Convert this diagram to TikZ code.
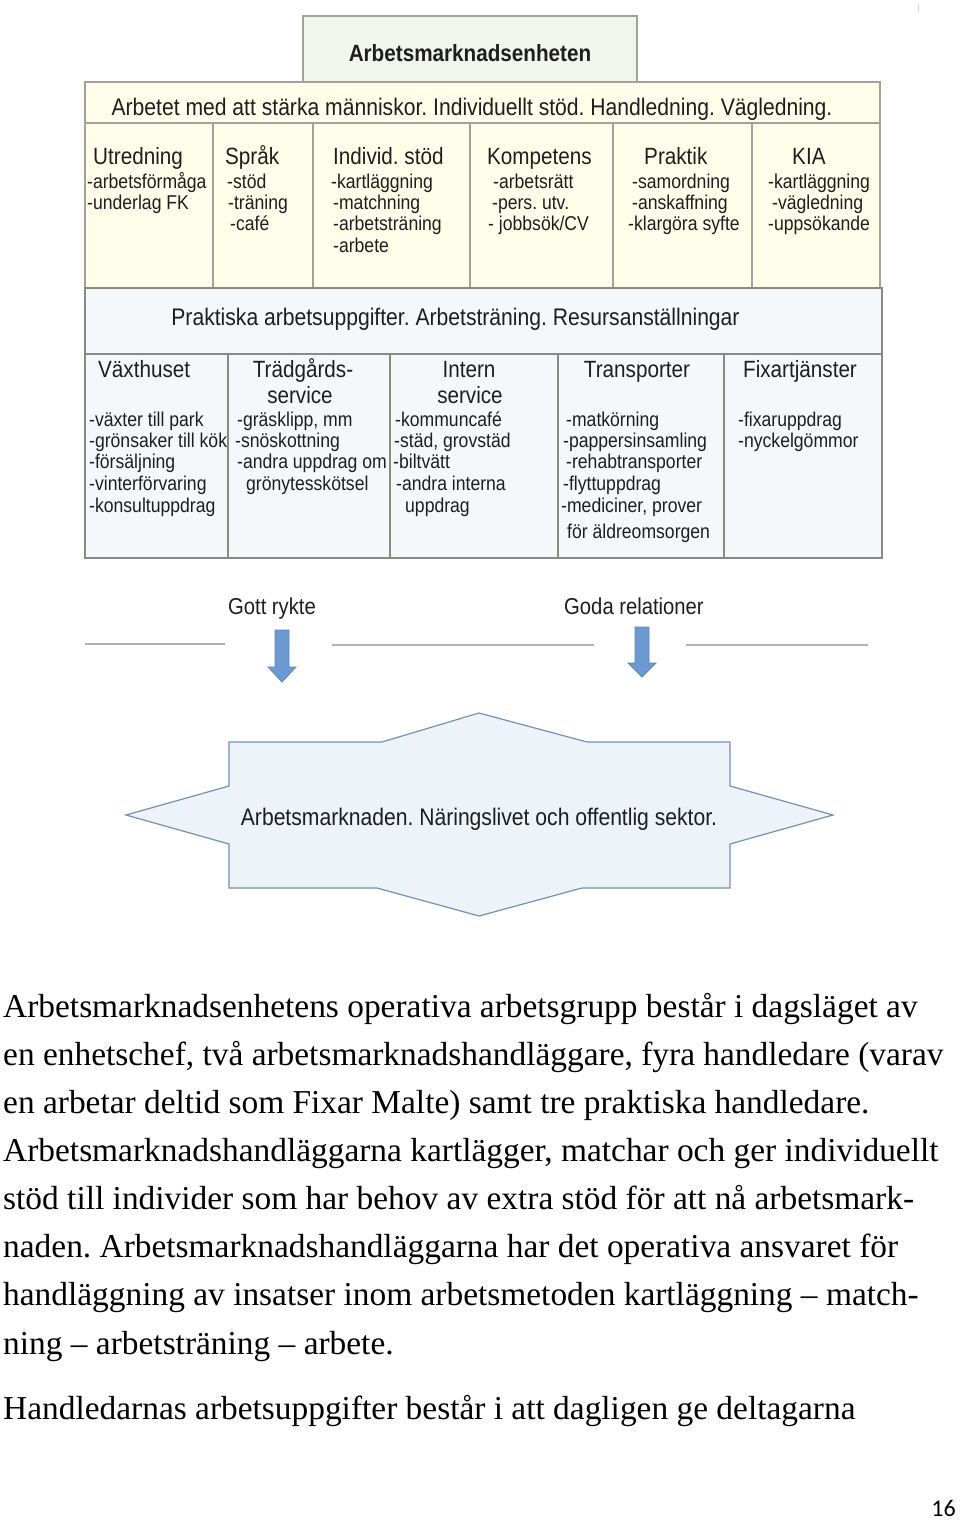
\documentclass[tikz,border=0pt]{standalone}
\usepackage{fontspec}
\setmainfont{Liberation Serif}
\newfontfamily\dia[FakeStretch=0.88]{Liberation Sans}
\newfontfamily\pagefont{Carlito}
\definecolor{txt}{HTML}{1E1E1E}
\definecolor{titlefill}{HTML}{F2F4EE}
\definecolor{yfill}{HTML}{FEFEEA}
\definecolor{bfill}{HTML}{F5F8FB}
\definecolor{bordc}{HTML}{A2A29A}
\definecolor{starfill}{HTML}{EEF3F9}
\definecolor{stardraw}{HTML}{7091BC}
\definecolor{arrowfill}{HTML}{6B9AD3}
\definecolor{arrowdraw}{HTML}{5A86BE}
\definecolor{sepc}{HTML}{B0B0B0}
\begin{document}
\frenchspacing
\begin{tikzpicture}[x=1pt,y=-1pt,
  titlebox/.style={draw=bordc, line width=1.5pt, fill=titlefill},
  ycell/.style={draw=bordc, line width=1.6pt, fill=yfill},
  bcell/.style={draw=bordc!85!black, line width=1.6pt, fill=bfill},
  hd/.style={font=\dia\fontsize{23.5}{26}\selectfont, text=txt, inner sep=0pt, anchor=base west},
  hdc/.style={hd, anchor=base},
  bantext/.style={font=\dia\fontsize{24}{26}\selectfont, text=txt, inner sep=0pt, anchor=base},
  it/.style={font=\dia\fontsize{20}{22}\selectfont, text=txt, inner sep=0pt, anchor=base west},
  body/.style={font=\fontsize{33.4}{40}\selectfont, text=black, inner sep=0pt, anchor=base west},
  sepline/.style={draw=sepc, line width=2pt},
  blockarrow/.style={fill=arrowfill, draw=arrowdraw, line width=0.8pt},
  starshape/.style={fill=starfill, draw=stardraw, line width=1.2pt}]
\useasboundingbox[fill=white] (0,0) rectangle (960,1523);
\draw[line width=0.8pt, draw=black!15] (918,3) -- (918,13);
% title
\draw[titlebox] (303,16) rectangle (637,82);
\node[font=\dia\bfseries\fontsize{23.5}{26}\selectfont, text=txt, inner sep=0pt, anchor=base] (title) at (470,61) {Arbetsmarknadsenheten};
% banner 1
\draw[ycell] (85,82) rectangle (880,123);
\node[bantext] (ban1) at (472,115) {Arbetet med att stärka människor. Individuellt stöd. Handledning. Vägledning.};
% row 1 cells
\foreach \a/\b in {85/213,213/313,313/470,470/613,613/752,752/880}
  \draw[ycell] (\a,123) rectangle (\b,288);
\node[hd] (h11) at (93,164) {Utredning};
\node[it] (i11a) at (87,188) {-arbetsförmåga};
\node[it] (i11b) at (87,209) {-underlag FK};
\node[hd] (h12) at (225,164) {Språk};
\node[it] (i12a) at (227,188) {-stöd};
\node[it] (i12b) at (228,209) {-träning};
\node[it] (i12c) at (230,230) {-café};
\node[hd] (h13) at (333,164) {Individ. stöd};
\node[it] (i13a) at (331,188) {-kartläggning};
\node[it] (i13b) at (333,209) {-matchning};
\node[it] (i13c) at (333,230) {-arbetsträning};
\node[it] (i13d) at (333,252) {-arbete};
\node[hd] (h14) at (487,164) {Kompetens};
\node[it] (i14a) at (493,188) {-arbetsrätt};
\node[it] (i14b) at (492,209) {-pers. utv.};
\node[it] (i14c) at (488,230) {- jobbsök/CV};
\node[hd] (h15) at (644,164) {Praktik};
\node[it] (i15a) at (632,188) {-samordning};
\node[it] (i15b) at (632,209) {-anskaffning};
\node[it] (i15c) at (628,230) {-klargöra syfte};
\node[hd] (h16) at (792,164) {KIA};
\node[it] (i16a) at (768,188) {-kartläggning};
\node[it] (i16b) at (772,209) {-vägledning};
\node[it] (i16c) at (768,230) {-uppsökande};
% banner 2
\draw[bcell] (85,288) rectangle (882,354);
\node[bantext] (ban2) at (455.5,325) {Praktiska arbetsuppgifter. Arbetsträning. Resursanställningar};
% row 2 cells
\foreach \a/\b in {85/228,228/390,390/558,558/724,724/882}
  \draw[bcell] (\a,354) rectangle (\b,558);
\node[hd] (h21) at (98,377) {Växthuset};
\node[it] (i21a) at (89,426) {-växter till park};
\node[it] (i21b) at (89,447) {-grönsaker till kök};
\node[it] (i21c) at (89,468) {-försäljning};
\node[it] (i21d) at (89,490) {-vinterförvaring};
\node[it] (i21e) at (89,512) {-konsultuppdrag};
\node[hdc] (h22) at (303,377) {Trädgårds-};
\node[hdc] (h22b) at (300,403) {service};
\node[it] (i22a) at (237,426) {-gräsklipp, mm};
\node[it] (i22b) at (235,447) {-snöskottning};
\node[it] (i22c) at (237,468) {-andra uppdrag om};
\node[it] (i22d) at (246,490) {grönytesskötsel};
\node[hdc] (h23) at (469,377) {Intern};
\node[hdc] (h23b) at (470,403) {service};
\node[it] (i23a) at (395,426) {-kommuncafé};
\node[it] (i23b) at (394,447) {-städ, grovstäd};
\node[it] (i23c) at (393,468) {-biltvätt};
\node[it] (i23d) at (396,490) {-andra interna};
\node[it] (i23e) at (405,512) {uppdrag};
\node[hdc] (h24) at (637,377) {Transporter};
\node[it] (i24a) at (566,426) {-matkörning};
\node[it] (i24b) at (563,447) {-pappersinsamling};
\node[it] (i24c) at (566,468) {-rehabtransporter};
\node[it] (i24d) at (563,490) {-flyttuppdrag};
\node[it] (i24e) at (561,512) {-mediciner, prover};
\node[it] (i24f) at (567,538) {för äldreomsorgen};
\node[hdc] (h25) at (800,377) {Fixartjänster};
\node[it] (i25a) at (738,426) {-fixaruppdrag};
\node[it] (i25b) at (738,447) {-nyckelgömmor};
% separators and labels
\coordinate (s1a) at (85,644); \coordinate (s1b) at (225,644);
\coordinate (s2a) at (332,645); \coordinate (s2b) at (594,645);
\coordinate (s3a) at (686,645); \coordinate (s3b) at (868,645);
\draw[sepline] (s1a) -- (s1b);
\draw[sepline] (s2a) -- (s2b);
\draw[sepline] (s3a) -- (s3b);
\node[hdc, font=\dia\fontsize{23}{25}\selectfont] (rykte) at (272,614) {Gott rykte};
\node[hdc, font=\dia\fontsize{23}{25}\selectfont] (relat) at (634,614) {Goda relationer};
% block arrows
\coordinate (a1) at (282,630); \coordinate (a1t) at (282,682);
\coordinate (a2) at (642,627); \coordinate (a2t) at (642,677);
\draw[blockarrow] (a1) ++(-7,0) -- ++(14,0) -- ++(0,37) -- ++(7,0) -- (a1t) -- ++(-14,-15) -- ++(7,0) -- cycle;
\draw[blockarrow] (a2) ++(-7,0) -- ++(14,0) -- ++(0,36) -- ++(7,0) -- (a2t) -- ++(-14,-14) -- ++(7,0) -- cycle;
% star
\draw[starshape] (479,713) -- (587,742) -- (730,742) -- (730,786) -- (833,815) -- (730,844) -- (730,888) -- (582,888) -- (479,916) -- (377,888) -- (229,888) -- (229,844) -- (126,815) -- (229,786) -- (229,742) -- (382,742) -- cycle;
\node[bantext] (market) at (479,825) {Arbetsmarknaden. Näringslivet och offentlig sektor.};
% body text
\node[body] (l1) at (3,1017) {Arbetsmarknadsenhetens operativa arbetsgrupp består i dagsläget av};
\node[body] (l2) at (3,1065) {en enhetschef, två arbetsmarknadshandläggare, fyra handledare (varav};
\node[body] (l3) at (3,1113) {en arbetar deltid som Fixar Malte) samt tre praktiska handledare.};
\node[body] (l4) at (3,1161) {Arbetsmarknadshandläggarna kartlägger, matchar och ger individuellt};
\node[body] (l5) at (3,1209) {stöd till individer som har behov av extra stöd för att nå arbetsmark-};
\node[body] (l6) at (3,1257) {naden. Arbetsmarknadshandläggarna har det operativa ansvaret för};
\node[body] (l7) at (3,1305) {handläggning av insatser inom arbetsmetoden kartläggning – match-};
\node[body] (l8) at (3,1354) {ning – arbetsträning – arbete.};
\node[body] (l9) at (3,1419) {Handledarnas arbetsuppgifter består i att dagligen ge deltagarna};
\node[font=\pagefont\fontsize{24}{26}\selectfont, inner sep=0pt, anchor=base east] (pnum) at (956,1516) {16};
\end{tikzpicture}
\end{document}
